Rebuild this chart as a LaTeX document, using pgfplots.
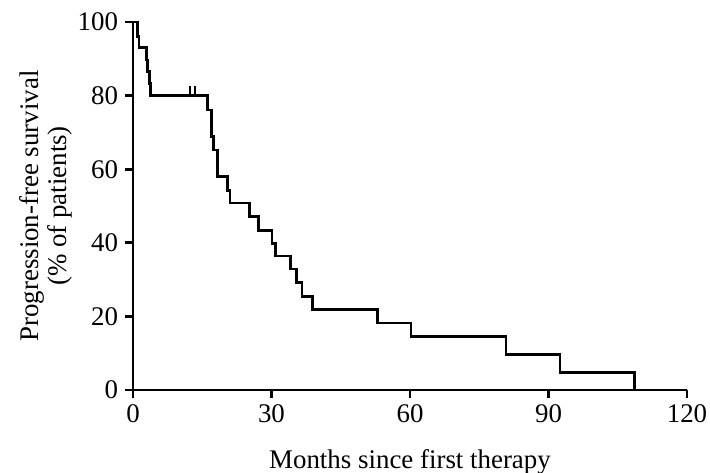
\documentclass[border=0pt]{standalone}
\usepackage{fontspec}
\setmainfont{Liberation Serif}
\usepackage{pgfplots}
\pgfplotsset{compat=1.18}

\begin{document}
\begin{tikzpicture}[font=\fontsize{13.5}{14}\selectfont]
\useasboundingbox (-66.5bp,-41.5bp) rectangle (288.5bp,195bp);
\begin{axis}[
  at={(0,0)}, anchor=south west,
  scale only axis,
  width=277bp, height=184bp,
  xmin=0, xmax=120, ymin=0, ymax=100,
  axis x line*=bottom, axis y line*=left,
  axis line style={line width=1.4bp, -},
  xtick={0,30,...,120}, ytick={0,20,...,100},
  tick align=outside,
  major tick length=4bp,
  every tick/.style={black, line width=1.4bp},
  /pgf/number format/assume math mode=true,
  tick label style={font=\fontsize{13.5}{14}\selectfont},
  xlabel={Months since first therapy},
  ylabel={Progression-free survival\\(\% of patients)},
  xlabel style={at={(axis description cs:0.5,-0.196)}, anchor=center},
  ylabel style={at={(axis description cs:-0.157,0.5)}, anchor=center, align=center},
  clip=false,
]
  % Kaplan-Meier step curve
  \addplot[const plot, black, line width=1.4bp] coordinates {
    (0,100) (0.9,96.1) (1.3,93.0) (2.9,89.7) (3.2,86.5) (3.5,83.3) (3.8,80.0)
    (16.2,76.1) (17.0,68.9) (17.4,65.2) (18.3,58.0) (20.5,54.3) (21.0,50.8)
    (25.3,47.1) (27.1,43.4) (30.1,39.9) (30.8,36.4) (34.2,32.9) (35.5,29.2)
    (36.6,25.5) (38.8,21.8) (52.9,18.2) (60.2,14.5) (80.8,9.6) (92.5,4.7)
    (108.7,0)
  };
  % censored observations
  \addplot[only marks, mark=|, mark size=2.2bp, line width=1bp, black] coordinates {
    (12.3,81.3) (13.4,81.3)
  };
\end{axis}
\end{tikzpicture}
\end{document}
